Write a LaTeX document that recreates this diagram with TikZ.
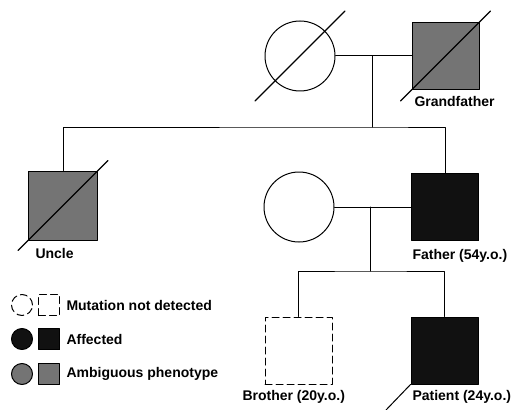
\documentclass[tikz,border=0pt]{standalone}
\usepackage{fontspec}
\setmainfont{Liberation Sans}
\usetikzlibrary{calc}
\definecolor{ambgray}{HTML}{747474}
\definecolor{affblack}{HTML}{111111}
\tikzset{
    lab/.style={
        font=\fontsize{14}{16}\selectfont\bfseries, inner sep=0pt
    },
    male/.style={draw, rectangle, minimum size=67pt, inner sep=0pt},
    female/.style={draw, circle, minimum size=70pt, inner sep=0pt},
    affected/.style={fill=affblack},
    ambiguous/.style={fill=ambgray},
    notdetected/.style={dash pattern=on 7pt off 4pt},
    slashline/.style={line width=1.1pt}
}
\newcommand\deceased[1]{\draw[slashline] ($(#1)+(-45,45)$) -- ($(#1)+(45,-45)$);}

\begin{document}
\begin{tikzpicture}[x=1pt,y=-1pt, line width=1pt, line cap=round, line join=round]

\useasboundingbox (0,0) rectangle (521,409);

% grandparents
\node[female] (gm) at (300,56) {};
\node[male, ambiguous] (gf) at (445.5,56) {};
\deceased{gm}
\deceased{gf}
\node[lab, anchor=west] (gflab) at (414,101) {Grandfather};

\coordinate (m1) at (372,56);
\coordinate (s1) at (372,127);
\draw (gm) -- (gf);
\draw (m1) -- (s1);

% uncle, father, mother
\node[male, minimum size=69pt, ambiguous] (uncle) at (63,205.5) {};
\deceased{uncle}
\node[lab, anchor=west] (unclelab) at (35,253) {Uncle};
\node[male, affected] (fa) at (445,207) {};
\node[lab, anchor=west] (falab) at (412,256) {Father (54y.o.)};
\node[female] (mo) at (299,207) {};

\draw (uncle.north) |- (s1) -| (fa.north);

\coordinate (m2) at (370,207);
\coordinate (s2) at (370,271);
\draw (mo) -- (fa);
\draw (m2) -- (s2);

% children
\node[male, notdetected] (bro) at (298.5,350.5) {};
\node[lab, anchor=west] (brolab) at (242,397) {Brother (20y.o.)};
\node[male, affected] (pat) at (444.5,350.5) {};
\node[lab, anchor=west] (patlab) at (412,397) {Patient (24y.o.)};

\draw (bro.north) |- (s2) -| (pat.north);

% proband
\coordinate (pb) at (386,410);
\draw (pb) -- (pat.south west);

% legend
\foreach \y/\kind/\txt in {305/notdetected/Mutation not detected, 339/affected/Affected, 374/ambiguous/Ambiguous phenotype} {
  \node[female, minimum size=21pt, \kind] (lc\y) at (22,\y) {};
  \node[male, minimum size=21pt, \kind] (ls\y) at (49,\y) {};
  \node[lab, anchor=west] (lt\y) at (66,\y) {\txt};
}

\end{tikzpicture}
\end{document}
